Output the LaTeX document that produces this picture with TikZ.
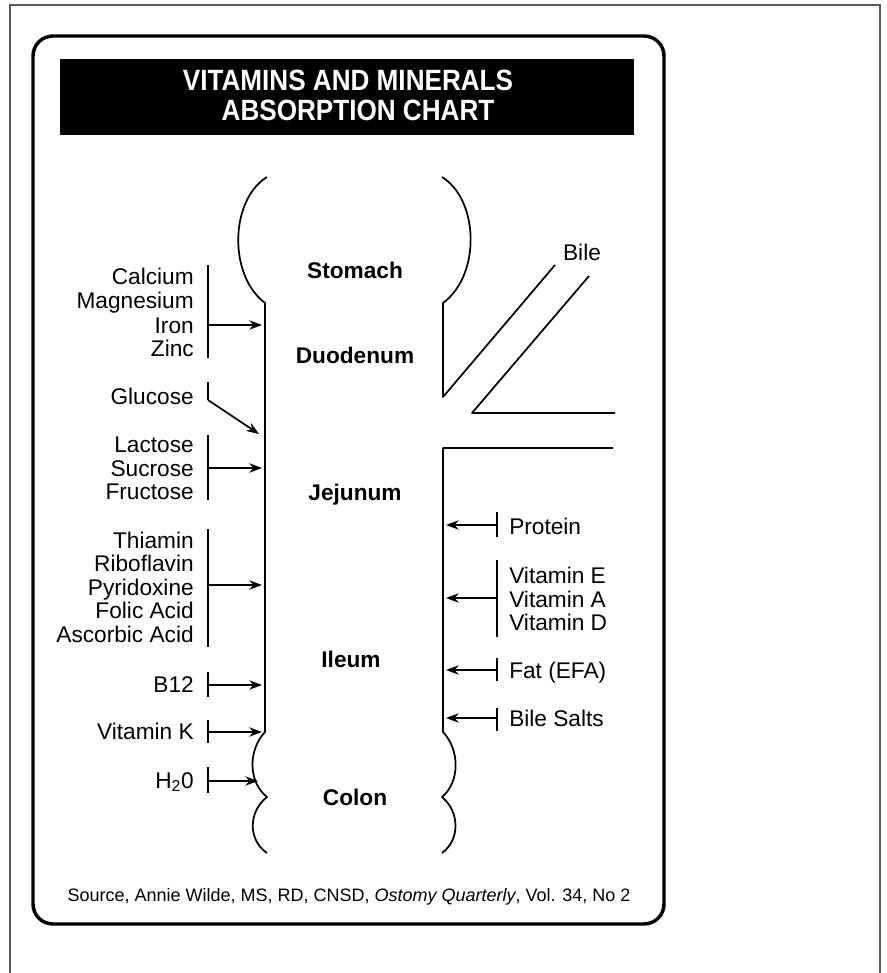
\documentclass[tikz,border=0pt]{standalone}
\usepackage{fontspec}
\setmainfont{Liberation Sans}
\usetikzlibrary{arrows.meta}
\newcommand{\ttlnarrow}[1]{\scalebox{0.89}[1]{#1}}
\begin{document}
\begin{tikzpicture}[x=0.75pt,y=-0.75pt,
  lbl/.style={inner sep=0pt, font=\fontsize{17}{20}\selectfont},
  lft/.style={lbl, anchor=base east},
  rgt/.style={lbl, anchor=base west},
  organ/.style={inner sep=0pt, anchor=base, font=\fontsize{17}{20}\selectfont\bfseries},
  tube/.style={line width=1.3pt, line join=round},
  brk/.style={line width=1.3pt},
  arr/.style={line width=1.3pt, -{Stealth[length=9.5pt,width=7pt]}},
  title/.style={inner sep=0pt, anchor=base, text=white, font=\fontsize{22}{24}\selectfont\bfseries},
]
\useasboundingbox (0,0) rectangle (887,973);
% outer frame (open at the bottom)
\draw[gray!70!black, line width=0.8pt] (10,973) -- (10,5) -- (880,5) -- (880,973);
% rounded card
\draw[line width=2.6pt, rounded corners=15pt] (33,36) rectangle (664,924);
% title bar
\fill[black] (60,59) rectangle (634,135);
\node[title] (t1) at (348,91) {\ttlnarrow{VITAMINS AND MINERALS}};
\node[title] (t2) at (358,121) {\ttlnarrow{ABSORPTION CHART}};

% ---- tube ----
\draw[tube] (267,177) .. controls (230,200) and (228,275) .. (265,303) -- (265,732)
  .. controls (248,750) and (248,782) .. (267,797)
  .. controls (248,812) and (248,840) .. (267,853);
\draw[tube] (442,177) .. controls (479,200) and (481,275) .. (443,303) -- (443,397) -- (555,265);
\draw[tube] (589,276) -- (472,413) -- (615,413);
\draw[tube] (613,448) -- (443,448) -- (443,732)
  .. controls (460,750) and (460,782) .. (442,797)
  .. controls (460,812) and (460,840) .. (442,853);

% organs
\node[organ] (stomach) at (355,278) {Stomach};
\node[organ] (duod) at (355,363) {Duodenum};
\node[organ] (jej) at (355,500) {Jejunum};
\node[organ] (ileum) at (351,667) {Ileum};
\node[organ] (colon) at (355,805) {Colon};
\node[lbl, anchor=base] (bile) at (582,261) {Bile};

% ---- left groups ----
\node[lft] (ca) at (194,285) {Calcium};
\node[lft] (mg) at (194,309) {Magnesium};
\node[lft] (fe) at (194,333) {Iron};
\node[lft] (zn) at (194,356) {Zinc};
\coordinate (g1t) at (208,265); \coordinate (g1b) at (208,358);
\coordinate (g1s) at (208,325); \coordinate (g1e) at (262,325);
\draw[brk] (g1t) -- (g1b);
\draw[arr] (g1s) -- (g1e);

\node[lft] (glu) at (194,404) {Glucose};
\coordinate (g2t) at (208,382); \coordinate (g2s) at (208,400); \coordinate (g2e) at (259,434);
\draw[brk] (g2t) -- (g2s);
\draw[arr] (g2s) -- (g2e);

\node[lft] (lac) at (194,452) {Lactose};
\node[lft] (suc) at (194,476) {Sucrose};
\node[lft] (fru) at (194,499) {Fructose};
\coordinate (g3t) at (208,435); \coordinate (g3b) at (208,500);
\coordinate (g3s) at (208,468); \coordinate (g3e) at (262,468);
\draw[brk] (g3t) -- (g3b);
\draw[arr] (g3s) -- (g3e);

\node[lft] (thi) at (194,548) {Thiamin};
\node[lft] (rib) at (194,571.5) {Riboflavin};
\node[lft] (pyr) at (194,595) {Pyridoxine};
\node[lft] (fol) at (194,618.5) {Folic Acid};
\node[lft] (asc) at (194,642) {Ascorbic Acid};
\coordinate (g4t) at (208,529); \coordinate (g4b) at (208,647);
\coordinate (g4s) at (208,585); \coordinate (g4e) at (262,585);
\draw[brk] (g4t) -- (g4b);
\draw[arr] (g4s) -- (g4e);

\node[lft] (b12) at (194,692) {B12};
\coordinate (g5t) at (208,672); \coordinate (g5b) at (208,697);
\coordinate (g5s) at (208,685); \coordinate (g5e) at (262,685);
\draw[brk] (g5t) -- (g5b);
\draw[arr] (g5s) -- (g5e);

\node[lft] (vk) at (194,739) {Vitamin K};
\coordinate (g6t) at (208,720); \coordinate (g6b) at (208,743);
\coordinate (g6s) at (208,732); \coordinate (g6e) at (262,732);
\draw[brk] (g6t) -- (g6b);
\draw[arr] (g6s) -- (g6e);

\node[lft] (h2o) at (194,788) {H\textsubscript{2}0};
\coordinate (g7t) at (208,767); \coordinate (g7b) at (208,793);
\coordinate (g7s) at (208,781); \coordinate (g7e) at (258,781);
\draw[brk] (g7t) -- (g7b);
\draw[arr] (g7s) -- (g7e);

% ---- right groups ----
\node[rgt] (pro) at (509,534) {Protein};
\coordinate (r1t) at (497,512); \coordinate (r1b) at (497,537);
\coordinate (r1s) at (497,525); \coordinate (r1e) at (446,525);
\draw[brk] (r1t) -- (r1b);
\draw[arr] (r1s) -- (r1e);

\node[rgt] (ve) at (509,583) {Vitamin E};
\node[rgt] (va) at (509,607) {Vitamin A};
\node[rgt] (vd) at (509,630) {Vitamin D};
\coordinate (r2t) at (497,560); \coordinate (r2b) at (497,637);
\coordinate (r2s) at (497,598); \coordinate (r2e) at (446,598);
\draw[brk] (r2t) -- (r2b);
\draw[arr] (r2s) -- (r2e);

\node[rgt] (fat) at (509,678) {Fat (EFA)};
\coordinate (r3t) at (497,658); \coordinate (r3b) at (497,681);
\coordinate (r3s) at (497,670); \coordinate (r3e) at (446,670);
\draw[brk] (r3t) -- (r3b);
\draw[arr] (r3s) -- (r3e);

\node[rgt] (bs) at (509,726) {Bile Salts};
\coordinate (r4t) at (497,708); \coordinate (r4b) at (497,731);
\coordinate (r4s) at (497,718); \coordinate (r4e) at (446,718);
\draw[brk] (r4t) -- (r4b);
\draw[arr] (r4s) -- (r4e);

% source
\node[inner sep=0pt, anchor=base, font=\fontsize{13.5}{16}\selectfont] (src) at (349,901)
  {Source, Annie Wilde, MS, RD, CNSD, \textit{Ostomy Quarterly}, Vol. 34, No 2};
\end{tikzpicture}
\end{document}
